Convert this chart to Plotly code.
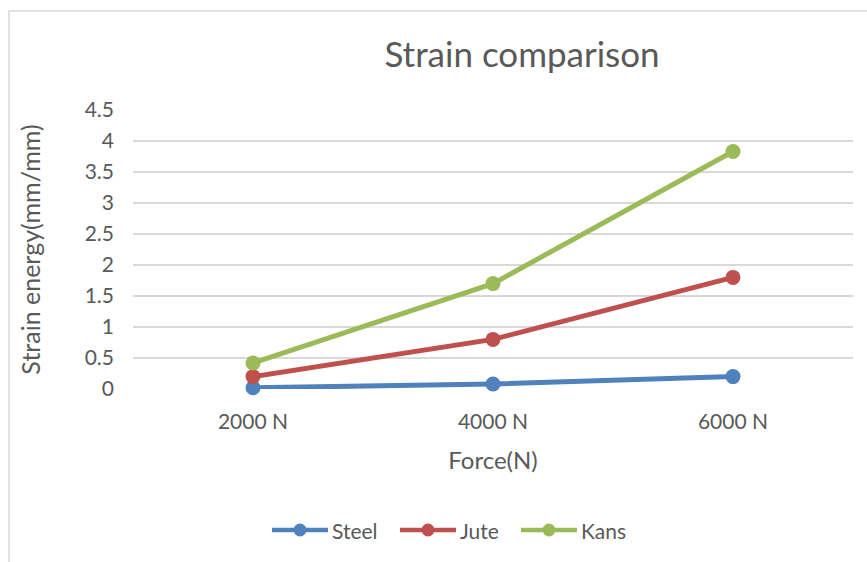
import plotly.graph_objects as go

# Applied force categories
forces = ["2000 N", "4000 N", "6000 N"]

# Strain energy per material (mm/mm)
steel = [0.02, 0.08, 0.20]
jute = [0.20, 0.80, 1.80]
kans = [0.42, 1.70, 3.83]

y_ticks = [0, 0.5, 1, 1.5, 2, 2.5, 3, 3.5, 4, 4.5]
y_tick_text = ["0", "0.5", "1", "1.5", "2", "2.5", "3", "3.5", "4", "4.5"]

series_names = ["Steel", "Jute", "Kans"]
series_values = [steel, jute, kans]
series_colors = ["#4F81BD", "#C0504D", "#9BBB59"]

FONT = "Lato, 'Open Sans', sans-serif"
TEXT_GREY = "#595959"
GRID_GREY = "#d9d9d9"

W, H = 867, 562
L, R, T, B = 133, 14, 110, 173
plot_w = W - L - R
plot_h = H - T - B


def px(x):
    return (x - L) / plot_w


def py(y):
    return (H - B - y) / plot_h


fig = go.Figure()
for name, vals, color in zip(series_names, series_values, series_colors):
    fig.add_trace(go.Scatter(
        x=list(range(len(forces))),
        y=vals,
        name=name,
        mode="lines+markers",
        line=dict(color=color, width=5),
        marker=dict(color=color, size=15),
        cliponaxis=False,
        showlegend=False,
    ))

shapes = []
annotations = []

# chart frame (left/top edges visible, extends past the page)
shapes.append(dict(type="rect", xref="paper", yref="paper",
                   x0=px(9), x1=1.2, y0=-1.0, y1=py(11),
                   line=dict(color=GRID_GREY, width=1.5), layer="below"))

# legend: long line key with a round marker, then the series name
legend_y = 530
legend_keys = [(272, 328), (400, 456), (521, 577)]
for (lx0, lx1), name, color in zip(legend_keys, series_names, series_colors):
    shapes.append(dict(type="line", xref="paper", yref="paper",
                       x0=px(lx0), x1=px(lx1), y0=py(legend_y), y1=py(legend_y),
                       line=dict(color=color, width=4.5)))
    cx = (lx0 + lx1) / 2
    r = 6.5
    shapes.append(dict(type="circle", xref="paper", yref="paper",
                       x0=px(cx - r), x1=px(cx + r), y0=py(legend_y + r), y1=py(legend_y - r),
                       fillcolor=color, line=dict(color=color, width=0)))
    annotations.append(dict(text=name, xref="paper", yref="paper",
                            x=px(lx1 + 2), y=py(legend_y), xanchor="left", yanchor="middle",
                            showarrow=False, font=dict(size=21, color=TEXT_GREY, family=FONT)))

fig.update_layout(
    width=W, height=H,
    margin=dict(l=L, r=R, t=T, b=B),
    paper_bgcolor="white", plot_bgcolor="white",
    font=dict(family=FONT, color=TEXT_GREY, size=20),
    title=dict(text="Strain comparison", x=522 / W, xref="container", xanchor="center",
               y=1 - 55 / H, yref="container", yanchor="middle",
               font=dict(size=35, color=TEXT_GREY, family=FONT)),
    showlegend=False,
    shapes=shapes,
    annotations=annotations,
    xaxis=dict(range=[-0.5, 2.5], tickmode="array", tickvals=list(range(len(forces))),
               ticktext=forces, showgrid=False, zeroline=False, showline=False,
               ticks="", ticklabelstandoff=18, tickfont=dict(size=21),
               title=dict(text="Force(N)", standoff=20, font=dict(size=24))),
    yaxis=dict(range=[0, 4.5], tickmode="array", tickvals=y_ticks, ticktext=y_tick_text,
               showgrid=True, gridcolor=GRID_GREY, gridwidth=1.5, zeroline=False,
               showline=False, ticks="", ticklabelstandoff=18, tickfont=dict(size=21),
               title=dict(text="Strain energy(mm/mm)", standoff=36, font=dict(size=25))),
)

fig.write_html("out.html")
